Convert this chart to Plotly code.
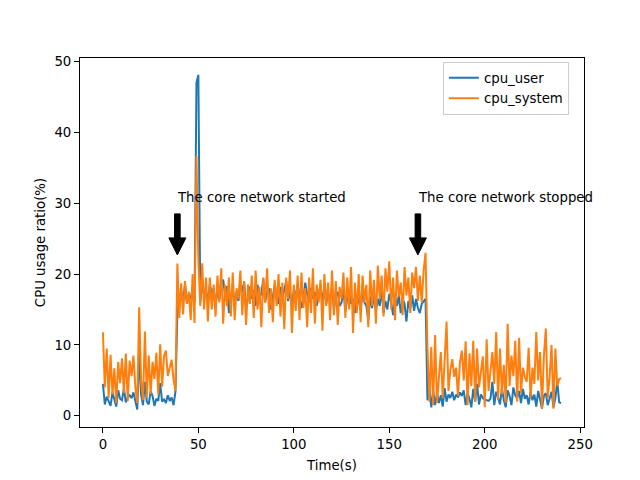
"""CPU usage of the core network host: user vs system time."""

import plotly.graph_objects as go

# ---- data ----
time_s = list(range(241))

cpu_user = [
    # before the core network started (t = 0..38)
    4.5, 1.6, 2.7, 2.0, 1.4, 3.3, 2.1, 1.3, 3.6, 2.4,
    2.2, 3.9, 1.9, 2.6, 2.9, 2.5, 3.3, 2.3, 0.9, 8.9,
    3.0, 1.5, 4.8, 2.0, 1.6, 3.5, 2.8, 1.4, 2.4, 2.1,
    4.6, 2.0, 2.3, 1.8, 2.9, 2.1, 2.6, 1.5, 3.4,
    # running (t = 39..169)
    14.5, 16.5, 17.5, 16.2, 18.5, 15.8, 17.0, 16.5, 18.0, 16.0,
    47.0, 48.1, 16.0, 18.8, 17.0, 17.8, 16.0, 18.5, 17.2, 18.0,
    15.5, 17.8, 16.3, 18.5, 19.2, 17.0, 18.3, 14.5, 16.8, 18.0,
    15.8, 17.5, 16.2, 19.0, 17.5, 18.8, 15.2, 17.0, 18.2, 16.5,
    17.8, 15.5, 18.5, 16.8, 17.2, 19.3, 16.0, 17.5, 18.0, 15.0,
    16.8, 18.5, 17.0, 15.8, 18.2, 16.5, 17.8, 19.0, 16.2, 17.5,
    15.5, 17.8, 16.8, 18.5, 17.0, 15.2, 16.5, 18.8, 17.2, 16.0,
    18.0, 16.5, 17.5, 15.5, 17.0, 18.5, 16.2, 17.8, 15.8, 17.2,
    16.5, 18.2, 15.0, 16.8, 17.5, 15.5, 16.0, 17.8, 14.8, 16.5,
    17.2, 15.8, 16.5, 14.5, 17.0, 16.2, 15.0, 17.5, 16.0, 15.5,
    13.5, 16.8, 15.2, 17.0, 14.8, 16.5, 15.5, 17.8, 14.5, 16.2,
    15.0, 17.2, 16.0, 14.2, 16.8, 15.5, 17.0, 14.5, 16.5, 15.8,
    13.3, 16.2, 15.0, 17.0, 14.8, 16.5, 15.2, 14.5, 15.8, 16.2,
    16.5,
    # after the core network stopped (t = 170..240)
    2.2, 3.8, 1.2, 3.5, 1.5, 3.2, 1.8, 2.9, 1.3, 3.9,
    2.0, 3.0, 2.5, 3.4, 2.2, 3.0, 2.6, 3.3, 2.8, 3.6,
    1.5, 3.2, 2.4, 1.2, 3.8, 2.0, 4.5, 1.6, 3.0, 2.5,
    2.3, 2.2, 2.1, 2.4, 4.8, 1.5, 3.4, 2.6, 1.6, 3.9,
    2.2, 1.2, 3.6, 2.8, 1.5, 4.0, 2.9, 2.5, 3.5, 1.8,
    3.8, 2.4, 2.9, 1.6, 3.4, 2.2, 3.0, 1.3, 3.5, 2.3,
    1.0, 2.8, 3.2, 1.5, 2.6, 3.4, 1.2, 2.5, 4.8, 1.9,
    1.8,
]

cpu_system = [
    # t = 0..38
    11.8, 4.0, 9.5, 2.5, 8.6, 3.0, 6.7, 1.8, 7.6, 4.6,
    8.1, 3.2, 8.8, 2.1, 7.8, 5.6, 8.5, 4.0, 1.8, 15.3,
    5.0, 2.2, 11.9, 2.6, 8.5, 3.1, 7.6, 5.2, 8.9, 3.0,
    10.1, 4.1, 8.4, 9.2, 5.6, 6.8, 7.9, 5.1, 3.5,
    # t = 39..169
    21.5, 13.8, 18.7, 14.3, 19.0, 15.8, 17.5, 13.5, 20.0, 13.1,
    36.7, 22.0, 15.5, 21.5, 15.0, 19.5, 13.3, 19.5, 15.0, 18.5,
    14.0, 19.8, 16.0, 20.8, 13.0, 18.5, 15.5, 19.5, 14.0, 20.2,
    13.5, 18.0, 16.5, 20.5, 14.2, 19.0, 12.8, 18.5, 15.8, 19.8,
    13.8, 20.5, 15.0, 18.2, 12.5, 19.5, 16.0, 20.8, 14.5, 18.0,
    13.2, 19.2, 15.5, 20.0, 14.0, 18.8, 12.2, 19.5, 16.5, 20.5,
    11.7, 18.5, 14.8, 19.8, 13.5, 20.2, 15.2, 18.0, 12.5, 19.5,
    14.5, 20.8, 13.0, 18.5, 16.0, 19.2, 12.0, 20.0, 15.5, 18.8,
    13.5, 20.5, 14.2, 19.0, 12.8, 18.2, 16.5, 20.2, 13.8, 19.5,
    15.0, 21.0, 11.7, 18.8, 14.5, 20.0, 13.2, 19.8, 16.0, 18.5,
    12.5, 20.5, 15.5, 19.2, 13.0, 21.2, 16.5, 19.8, 14.0, 20.8,
    17.5, 21.8, 15.0, 19.5, 13.5, 20.5, 16.8, 18.8, 14.2, 21.0,
    17.0, 19.5, 14.5, 20.2, 18.0, 21.0, 16.2, 19.8, 16.0, 20.5,
    23.0,
    # t = 170..240
    9.5, 2.0, 9.7, 1.5, 11.4, 1.8, 6.2, 9.0, 2.5, 7.8,
    13.3, 3.5, 6.5, 8.0, 5.5, 6.8, 2.8, 7.5, 9.2, 5.0,
    10.5, 1.5, 8.8, 4.2, 10.6, 2.0, 9.5, 4.0, 6.5, 8.4,
    1.2, 10.8, 3.5, 6.0, 9.0, 4.5, 11.8, 2.2, 9.5, 3.0,
    7.2, 1.8, 13.0, 4.2, 8.5, 5.6, 10.6, 2.0, 11.0, 3.2,
    6.8, 5.5, 4.8, 9.6, 2.5, 6.8, 4.5, 11.8, 5.0, 9.0,
    1.0, 8.5, 12.3, 2.5, 5.5, 10.0, 1.0, 9.5, 4.2, 5.2,
    5.3,
]

x_ticks = [0, 50, 100, 150, 200, 250]
y_ticks = [0, 10, 20, 30, 40, 50]

# annotations: label text, label anchor (x, y), arrow tip (x, y)
notes = [
    ("The core network started", 39, 30, 39, 22.7),
    ("The core network stopped", 165, 30, 165, 22.7),
]

# ---- style ----
font_family = "DejaVu Sans, sans-serif"
fs = 13.3
blue = "#1f77b4"
orange = "#ff7f0e"

fig = go.Figure()
fig.add_trace(go.Scatter(x=time_s, y=cpu_user, mode="lines", name="cpu_user",
                         line=dict(color=blue, width=2)))
fig.add_trace(go.Scatter(x=time_s, y=cpu_system, mode="lines", name="cpu_system",
                         line=dict(color=orange, width=2)))

axis_common = dict(
    automargin=False,
    showgrid=False,
    zeroline=False,
    showline=True,
    mirror=True,
    linecolor="black",
    linewidth=1,
    ticks="outside",
    ticklen=5,
    tickwidth=1,
    tickcolor="black",
    tickfont=dict(size=fs, color="black"),
)

# page body has an 8px margin, so the figure is 8px smaller than the window
fig.update_layout(
    width=632,
    height=472,
    font=dict(family=font_family, size=fs, color="black"),
    paper_bgcolor="white",
    plot_bgcolor="white",
    margin=dict(l=72, r=56, t=50, b=53),
    xaxis=dict(range=[-12, 252], tickvals=x_ticks,
               title=dict(text="Time(s)", font=dict(size=fs), standoff=9),
               **axis_common),
    yaxis=dict(range=[-1.58, 50.48], tickvals=y_ticks,
               title=dict(text="CPU usage ratio(%)", font=dict(size=fs), standoff=5),
               **axis_common),
    legend=dict(
        x=0.97, y=0.99, xanchor="right", yanchor="top",
        bgcolor="rgba(255,255,255,0.8)",
        bordercolor="#cccccc", borderwidth=1,
        font=dict(size=fs),
        tracegroupgap=0,
    ),
)

# text labels + thick black arrows (matplotlib-style), arrow drawn in pixels
for text, tx, ty, ax_, ay_ in notes:
    fig.add_annotation(x=tx, y=ty, text=text, showarrow=False,
                       xanchor="left", yanchor="bottom", yshift=-4, xshift=-2,
                       font=dict(size=fs, color="black"))
    fig.add_shape(
        type="path",
        xref="x", yref="y",
        xsizemode="pixel", ysizemode="pixel",
        xanchor=ax_, yanchor=ay_,
        path="M0,0 L-8.5,17 L-2.8,17 L-2.8,41 L2.8,41 L2.8,17 L8.5,17 Z",
        fillcolor="black",
        line=dict(color="black", width=1),
    )

fig.write_html("out.html")
